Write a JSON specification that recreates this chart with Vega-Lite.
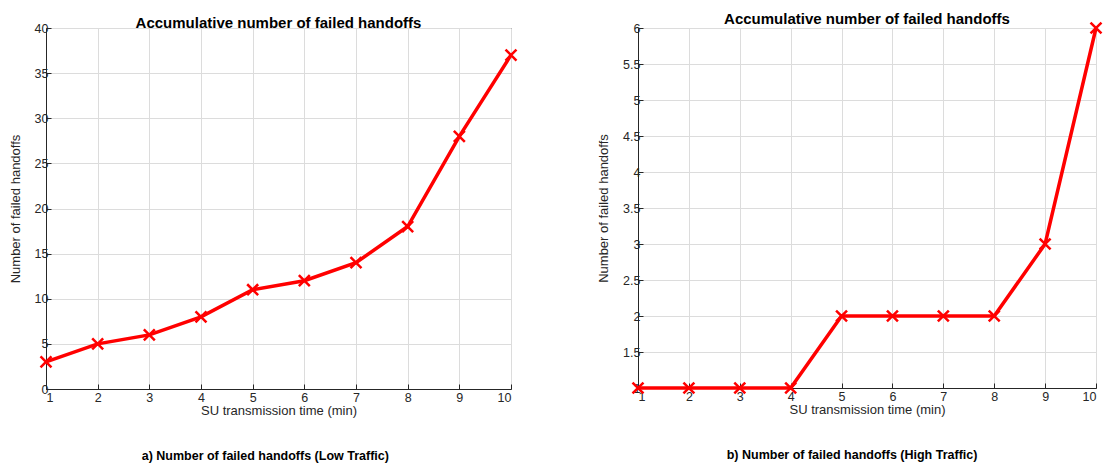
{
  "$schema": "https://vega.github.io/schema/vega-lite/v6.json",
  "padding": {"left": 8, "top": 11, "right": 0, "bottom": 0},
  "background": "white",
  "datasets": {
    "low": [
      {"t": 1, "n": 3}, {"t": 2, "n": 5}, {"t": 3, "n": 6}, {"t": 4, "n": 8}, {"t": 5, "n": 11},
      {"t": 6, "n": 12}, {"t": 7, "n": 14}, {"t": 8, "n": 18}, {"t": 9, "n": 28}, {"t": 10, "n": 37}
    ],
    "high": [
      {"t": 1, "n": 1}, {"t": 2, "n": 1}, {"t": 3, "n": 1}, {"t": 4, "n": 1}, {"t": 5, "n": 2},
      {"t": 6, "n": 2}, {"t": 7, "n": 2}, {"t": 8, "n": 2}, {"t": 9, "n": 3}, {"t": 10, "n": 6}
    ]
  },
  "config": {
    "font": "Liberation Sans",
    "view": {"stroke": "#262626", "strokeWidth": 1},
    "axis": {
      "labelFont": "Liberation Sans",
      "labelFontSize": 12.5,
      "labelColor": "#262626",
      "labelOverlap": false,
      "titleFont": "Liberation Sans",
      "titleFontSize": 13,
      "titleFontWeight": "normal",
      "titleColor": "#262626",
      "domainColor": "#262626",
      "tickColor": "#262626",
      "tickSize": -5,
      "gridColor": "#dcdcdc",
      "gridWidth": 1,
      "labelPadding": 3
    },
    "axisX": {"labelPadding": 7, "titlePadding": 1},
    "title": {"font": "Liberation Sans", "fontSize": 15, "fontWeight": "bold", "color": "#000000"},
    "concat": {"spacing": 75}
  },
  "hconcat": [
    {
      "title": {"text": "a) Number of failed handoffs (Low Traffic)", "orient": "bottom", "fontSize": 12.5, "fontWeight": 900, "offset": 32, "anchor": "middle"},
      "vconcat": [
        {
          "width": 465,
          "height": 361,
          "title": {"text": "Accumulative number of failed handoffs", "offset": -9, "anchor": "middle"},
          "data": {"name": "low"},
          "encoding": {
            "x": {"field": "t", "type": "quantitative", "scale": {"domain": [1, 10], "nice": false},
                  "axis": {"values": [1,2,3,4,5,6,7,8,9,10], "title": "SU transmission time (min)"}},
            "y": {"field": "n", "type": "quantitative", "scale": {"domain": [0, 40], "nice": false},
                  "axis": {"values": [0,5,10,15,20,25,30,35,40], "title": "Number of failed handoffs", "titlePadding": 12}}
          },
          "layer": [
            {"mark": {"type": "line", "color": "#ff0000", "strokeWidth": 3.5}},
            {"mark": {"type": "point", "shape": "M-1,-1L1,1M-1,1L1,-1", "filled": false, "stroke": "#ff0000", "strokeWidth": 2.5, "size": 120, "opacity": 1}}
          ]
        }
      ]
    },
    {
      "title": {"text": "b) Number of failed handoffs (High Traffic)", "orient": "bottom", "fontSize": 12.5, "fontWeight": 900, "offset": 32, "anchor": "middle"},
      "vconcat": [
        {
          "width": 458,
          "height": 360,
          "title": {"text": "Accumulative number of failed handoffs", "offset": -9, "anchor": "middle"},
          "data": {"name": "high"},
          "encoding": {
            "x": {"field": "t", "type": "quantitative", "scale": {"domain": [1, 10], "nice": false},
                  "axis": {"values": [1,2,3,4,5,6,7,8,9,10], "title": "SU transmission time (min)"}},
            "y": {"field": "n", "type": "quantitative", "scale": {"domain": [1, 6], "nice": false},
                  "axis": {"values": [1,1.5,2,2.5,3,3.5,4,4.5,5,5.5,6], "format": "~g", "title": "Number of failed handoffs", "titlePadding": 12}}
          },
          "layer": [
            {"mark": {"type": "line", "color": "#ff0000", "strokeWidth": 3.5}},
            {"mark": {"type": "point", "shape": "M-1,-1L1,1M-1,1L1,-1", "filled": false, "stroke": "#ff0000", "strokeWidth": 2.5, "size": 120, "opacity": 1}}
          ]
        }
      ]
    }
  ]
}
